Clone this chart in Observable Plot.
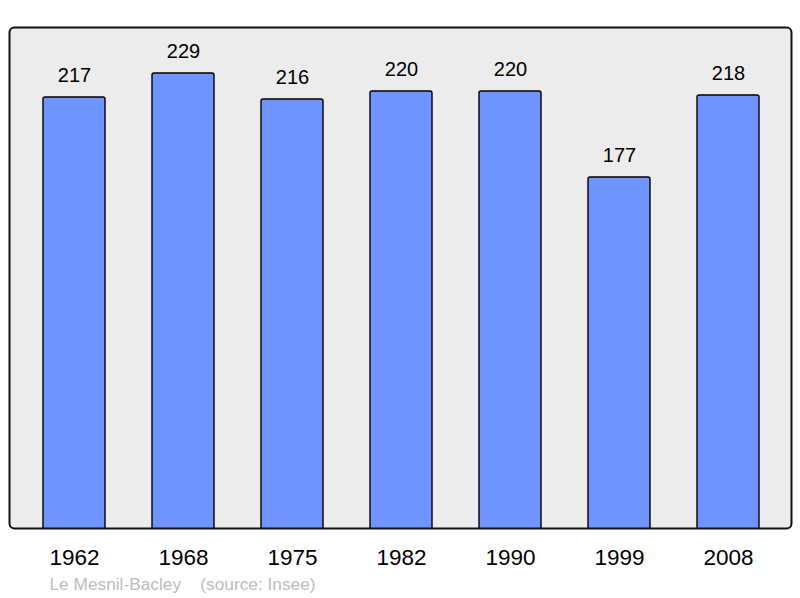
<!DOCTYPE html>
<html>
<head>
<meta charset="utf-8">
<script src="https://cdn.jsdelivr.net/npm/d3@7"></script>
<script src="https://cdn.jsdelivr.net/npm/@observablehq/plot@0.6"></script>
<style>
  html, body { margin: 0; padding: 0; background: #fff; }
  svg { display: block; }
</style>
</head>
<body>
<div id="chart"></div>
<script>
const years = ["1962", "1968", "1975", "1982", "1990", "1999", "2008"];
const population = [217, 229, 216, 220, 220, 177, 218];
const caption = "Le Mesnil-Bacley    (source: Insee)";

const data = years.map((y, i) => ({year: y, pop: population[i]}));

const chart = Plot.plot({
  width: 800,
  height: 598,
  marginTop: 27,
  marginBottom: 70,
  marginLeft: 9,
  marginRight: 9,
  style: {fontFamily: "'Liberation Sans', Arial, sans-serif", background: "#fff"},
  x: {domain: years, range: [8.5, 793], paddingInner: 0.429, paddingOuter: 0.299, label: null},
  y: {domain: [0, 252], range: [531, 27], axis: null},
  marks: [
    Plot.frame({fill: "#ececec", rx: 5}),
    Plot.barY(data, {x: "year", y: "pop", fill: "#7094ff", stroke: "#000", strokeWidth: 1.4, rx: 2, clip: "frame"}),
    Plot.text(data, {x: "year", y: "pop", text: d => String(d.pop), dy: -22, fontSize: 20, fill: "#000"}),
    Plot.frame({stroke: "#111", strokeWidth: 2, rx: 5}),
    Plot.axisX({tickSize: 0, tickPadding: 21, fontSize: 22.5, fill: "#000", label: null}),
    Plot.text([caption], {frameAnchor: "bottom-left", dx: 40, dy: 61, text: d => d, textAnchor: "start", fontSize: 17.3, fill: "#bdbdbd"})
  ]
});
document.getElementById("chart").appendChild(chart);
</script>
</body>
</html>
